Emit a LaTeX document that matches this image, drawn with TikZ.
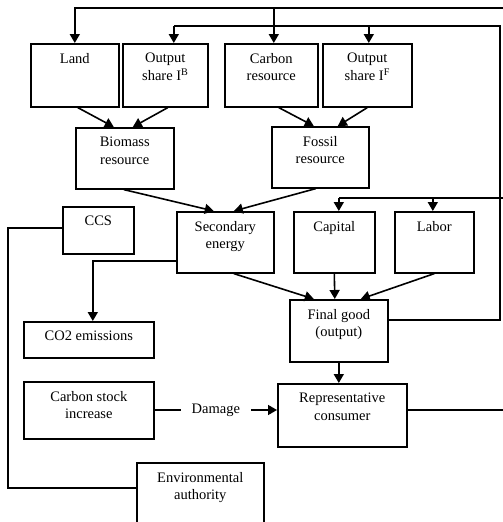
\documentclass[tikz,border=0pt]{standalone}
\usepackage{fontspec}
\setmainfont{Liberation Serif}
\usetikzlibrary{arrows.meta}
\tikzset{
  box/.style={draw, line width=1.6pt, anchor=north west, inner sep=0pt},
  lbl/.style={anchor=north, yshift=-10pt, align=center, inner sep=0pt, font=\fontsize{14.5}{17.5}\selectfont},
  ln/.style={line width=1.6pt},
  arr/.style={line width=1.6pt, -{Triangle[length=9pt,width=10pt]}},
}
\begin{document}
\begin{tikzpicture}[x=1pt,y=-1pt]
\clip (0,0) rectangle (503,522);
% boxes
\node[box, minimum width=88pt, minimum height=63pt, label={[lbl]north:Land}] (land) at (30,43) {};
\node[box, minimum width=85pt, minimum height=63pt, label={[lbl]north:Output\\share I\textsuperscript{B}}] (osB) at (122,43) {};
\node[box, minimum width=93pt, minimum height=63pt, label={[lbl]north:Carbon\\resource}] (carbon) at (224,43) {};
\node[box, minimum width=89pt, minimum height=63pt, label={[lbl]north:Output\\share I\textsuperscript{F}}] (osF) at (322,43) {};
\node[box, minimum width=98pt, minimum height=61pt, label={[lbl]north:Biomass\\resource}] (bio) at (75,127) {};
\node[box, minimum width=97pt, minimum height=61pt, label={[lbl]north:Fossil\\resource}] (fos) at (271,126) {};
\node[box, minimum width=71pt, minimum height=47pt, label={[lbl]north:CCS}] (ccs) at (62,206) {};
\node[box, minimum width=97pt, minimum height=61pt, label={[lbl]north:Secondary\\energy}] (sec) at (176,211) {};
\node[box, minimum width=81pt, minimum height=61pt, label={[lbl]north:Capital}] (cap) at (293,211) {};
\node[box, minimum width=79pt, minimum height=61pt, label={[lbl]north:Labor}] (lab) at (394,211) {};
\node[box, minimum width=130pt, minimum height=36pt, label={[lbl]north:CO2 emissions}] (co2) at (23,321) {};
\node[box, minimum width=98pt, minimum height=62pt, label={[lbl]north:Final good\\(output)}] (fin) at (289,299) {};
\node[box, minimum width=130pt, minimum height=57pt, label={[lbl]north:Carbon stock\\increase}] (csi) at (23,381) {};
\node[box, minimum width=129pt, minimum height=63pt, label={[lbl]north:Representative\\consumer}] (rep) at (277,383) {};
\node[box, minimum width=127pt, minimum height=80pt, label={[lbl]north:Environmental\\authority}] (env) at (136,462) {};
% coordinates at the edges
\coordinate (t1) at (503,8);
\coordinate (t2) at (500,26);
\coordinate (t3) at (503,198);
\coordinate (r1) at (503,410);
\coordinate (c1) at (8,228);
\coordinate (c2) at (8,488);
\coordinate (s1) at (92,261);
\coordinate (f1) at (500,320);
% top lines
\draw[arr] (t1) -| (land.north);
\draw[arr] ([xshift=2.5pt]carbon.north |- t1) -- ([xshift=2.5pt]carbon.north);
\draw[ln] (fin.east |- f1) -| (t2) -| ([xshift=8.5pt]osB.north |- t2);
\draw[arr] ([xshift=8.5pt]osB.north |- t2) -- ([xshift=8.5pt]osB.north);
\draw[arr] ([xshift=1.5pt]osF.north |- t2) -- ([xshift=1.5pt]osF.north);
% to biomass / fossil
\draw[arr] ([xshift=3pt]land.south) -- ([xshift=-11pt]bio.north);
\draw[arr] ([xshift=2.5pt]osB.south) -- ([xshift=8pt]bio.north);
\draw[arr] ([xshift=7.5pt]carbon.south) -- ([xshift=-6.5pt]fos.north);
\draw[arr] (osF.south) -- ([xshift=17.5pt]fos.north);
% to secondary energy
\draw[arr] ([xshift=-1pt]bio.south) -- ([xshift=-11.5pt]sec.north);
\draw[arr] ([xshift=-4.5pt]fos.south) -- ([xshift=8.5pt]sec.north);
% capital / labor
\draw[ln] (t3) -- ([xshift=4.5pt]cap.north |- t3);
\draw[arr] ([xshift=4.5pt]cap.north |- t3) -- ([xshift=4.5pt]cap.north);
\draw[arr] ([xshift=-1.5pt]lab.north |- t3) -- ([xshift=-1.5pt]lab.north);
% to final good
\draw[arr] ([xshift=8.5pt]sec.south) -- ([xshift=-25pt]fin.north);
\draw[arr] (cap.south) -- ([xshift=-4pt]fin.north);
\draw[arr] (lab.south) -- ([xshift=22pt]fin.north);
% CO2
\draw[arr] (sec.west |- s1) -| ([xshift=4pt]co2.north);
% final to consumer
\draw[arr] (fin.south) -- (fin.south |- rep.north);
% damage
\draw[arr] (csi.east |- r1) -- node[fill=white, inner xsep=11pt, font=\fontsize{14.5}{17.5}\selectfont] (dmg) {Damage} (rep.west |- r1);
\draw[ln] (rep.east |- r1) -- (r1);
% CCS to environmental authority
\draw[ln] (ccs.west |- c1) -- (c1) -- (c2) -- (env.west |- c2);
\end{tikzpicture}
\end{document}
